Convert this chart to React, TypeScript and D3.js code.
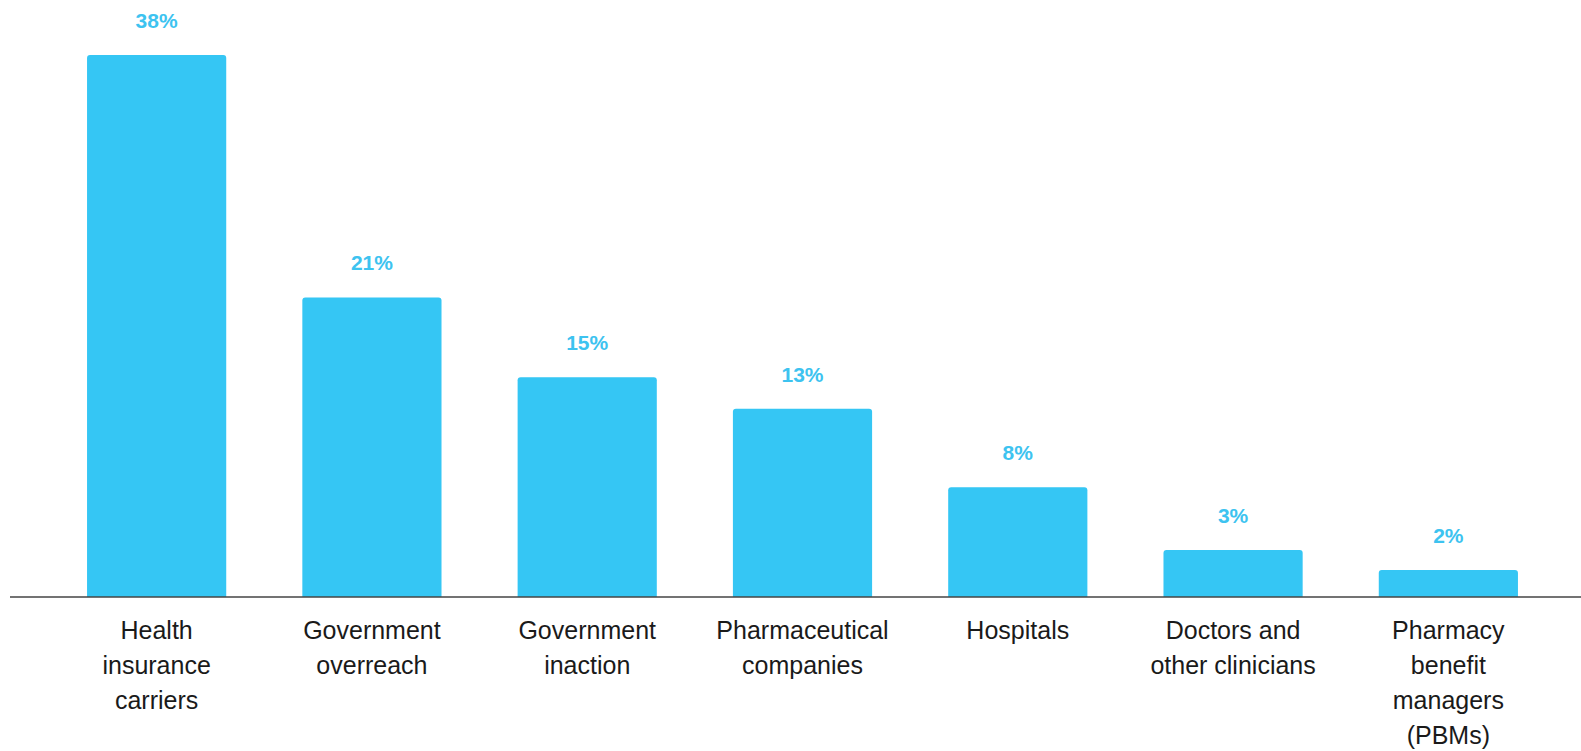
import React from "react";
import * as d3 from "d3";

const WIDTH = 1581;
const HEIGHT = 751;

// categories, split into the lines they are drawn on
const categories = [
  ["Health", "insurance", "carriers"],
  ["Government", "overreach"],
  ["Government", "inaction"],
  ["Pharmaceutical", "companies"],
  ["Hospitals"],
  ["Doctors and", "other clinicians"],
  ["Pharmacy", "benefit", "managers", "(PBMs)"],
];
// bar heights as measured (labels show them rounded)
const values = [38, 21, 15.4, 13.2, 7.7, 3.3, 1.9];

const BAR_COLOR = "#35C6F4";
const LABEL_COLOR = "#3DC3F0";
const FONT = "'Liberation Sans', Arial, sans-serif";

const App = () => {
  const keys = categories.map((c) => c.join(" "));

  const xScale = d3
    .scaleBand()
    .domain(keys)
    .range([16, 1589])
    .paddingInner(0.3535)
    .paddingOuter(0.33);

  const yScale = d3.scaleLinear().domain([0, 38]).range([597, 55]);

  const bars = values.map((v, i) => {
    const x = xScale(keys[i]) ?? 0;
    const w = xScale.bandwidth();
    const y = yScale(v);
    const h = yScale(0) - y;
    const r = 3;
    // rounded top corners only
    const path = `M${x},${y + h} L${x},${y + r} Q${x},${y} ${x + r},${y} L${x + w - r},${y} Q${x + w},${y} ${x + w},${y + r} L${x + w},${y + h} Z`;
    return (
      <g key={i}>
        <path d={path} fill={BAR_COLOR} />
        <text
          x={x + w / 2}
          y={y - 27}
          textAnchor="middle"
          fontFamily={FONT}
          fontWeight="bold"
          fontSize={21}
          fill={LABEL_COLOR}
        >
          {Math.round(v)}%
        </text>
        <text
          x={x + w / 2}
          y={639}
          textAnchor="middle"
          fontFamily={FONT}
          fontSize={25}
          fill="#1a1a1a"
        >
          {categories[i].map((line, j) => (
            <tspan key={j} x={x + w / 2} dy={j === 0 ? 0 : 35}>
              {line}
            </tspan>
          ))}
        </text>
      </g>
    );
  });

  return (
    <svg
      width={WIDTH}
      height={HEIGHT}
      style={{ position: "absolute", left: 0, top: 0, background: "#fff" }}
    >
      {bars}
      <line x1={10} x2={WIDTH} y1={yScale(0)} y2={yScale(0)} stroke="#444" strokeWidth={1.5} />
    </svg>
  );
};

export default App;
